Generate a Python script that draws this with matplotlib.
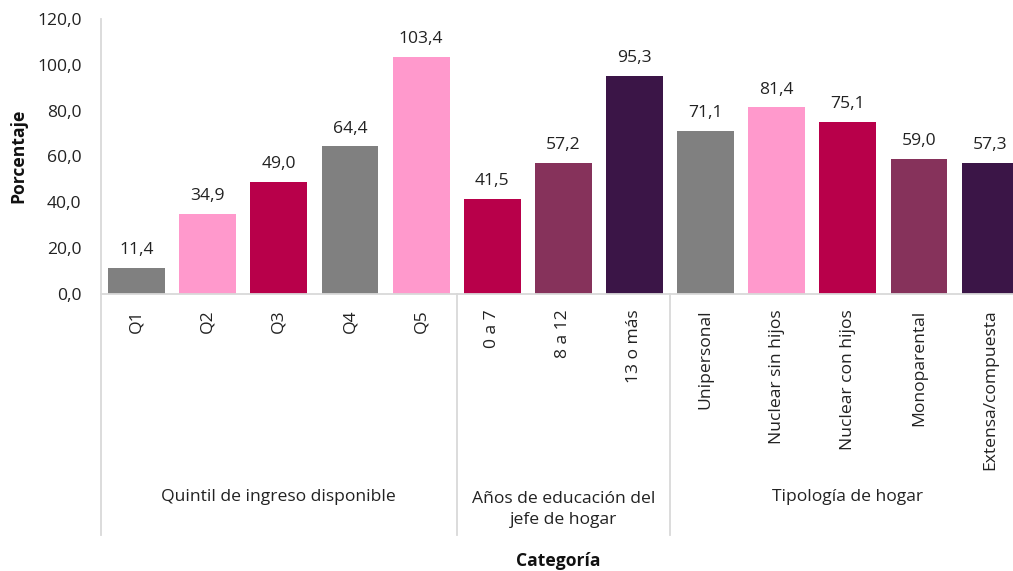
import matplotlib.pyplot as plt
import matplotlib.transforms as mtransforms
import numpy as np

plt.rcParams['font.family'] = ['Open Sans', 'DejaVu Sans']

categories = ["Q1", "Q2", "Q3", "Q4", "Q5",
              "0 a 7", "8 a 12", "13 o más",
              "Unipersonal", "Nuclear sin hijos", "Nuclear con hijos",
              "Monoparental", "Extensa/compuesta"]
values = [11.4, 34.9, 49.0, 64.4, 103.4,
          41.5, 57.2, 95.3,
          71.1, 81.4, 75.1, 59.0, 57.3]
groups = ["Quintil de ingreso disponible",
          "Años de educación del\njefe de hogar",
          "Tipología de hogar"]
group_sizes = [5, 3, 5]
yticks = [0, 20, 40, 60, 80, 100, 120]

GREY = "#808080"
PINK = "#FF99CC"
CRIM = "#B8004A"
MAUVE = "#86325B"
DARK = "#3B1547"
colors = [GREY, PINK, CRIM, GREY, PINK,
          CRIM, MAUVE, DARK,
          GREY, PINK, CRIM, MAUVE, DARK]

FS = 12.6
W, H = 1013, 571
fig = plt.figure(figsize=(W / 100, H / 100), dpi=100)
left_px, right_px = 101, 1025.7
bot_px, top_px = 294, 19
ax = fig.add_axes([left_px / W, (H - bot_px) / H,
                   (right_px - left_px) / W, (bot_px - top_px) / H])

x = np.arange(len(categories))
ax.bar(x, values, width=0.8, color=colors)
for xi, v in zip(x, values):
    ax.annotate(f"{v:.1f}".replace(".", ","), (xi, v), xytext=(0, 7),
                textcoords="offset points", ha="center", va="bottom",
                fontsize=FS, color="#222222")

ax.set_xlim(-0.5, len(categories) - 0.5)
ax.set_ylim(0, 120)
ax.set_yticks(yticks)
ax.set_yticklabels([f"{t:.1f}".replace(".", ",") for t in yticks],
                   fontsize=FS, color="#222222")
ax.set_xticks(x)
ax.set_xticklabels(categories, rotation=90, fontsize=FS, color="#222222",
                   va="top", ha="center")
ax.tick_params(axis="both", length=0)
ax.tick_params(axis="y", pad=14)
ax.tick_params(axis="x", pad=11)

for s in ["top", "right"]:
    ax.spines[s].set_visible(False)
for s in ["left", "bottom"]:
    ax.spines[s].set_color("#d9d9d9")
    ax.spines[s].set_linewidth(1.3)

trans = mtransforms.blended_transform_factory(ax.transData, ax.transAxes)
sep_bottom = -(535 - bot_px) / (bot_px - top_px)
bounds = np.concatenate([[0], np.cumsum(group_sizes)]) - 0.5
for b in bounds:
    ax.plot([b, b], [0, sep_bottom], transform=trans, color="#d9d9d9",
            lw=1.3, clip_on=False)

for i, g in enumerate(groups):
    c = (bounds[i] + bounds[i + 1]) / 2
    nlines = g.count("\n") + 1
    ypx = 497 + (nlines - 1) * 12.5
    ax.text(c, -(ypx - bot_px) / (bot_px - top_px), g, transform=trans,
            ha="center", va="center", fontsize=FS, color="#222222",
            linespacing=1.45)

fig.text(18 / W, (H - 156) / H, "Porcentaje", rotation=90, ha="center",
         va="center", fontsize=FS, fontweight="bold", color="#111111")
fig.text(558 / W, (H - 561) / H, "Categoría", ha="center", va="center",
         fontsize=FS, fontweight="bold", color="#111111")

fig.savefig("out.png", dpi=100)
